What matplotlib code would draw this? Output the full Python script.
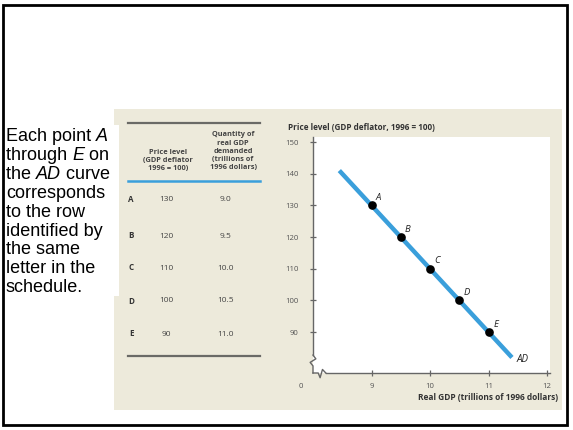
import matplotlib
matplotlib.use("Agg")
import matplotlib.pyplot as plt
from matplotlib.patches import Rectangle
from matplotlib.lines import Line2D

# Aggregate demand schedule
letters = ["A", "B", "C", "D", "E"]
price_level = [130, 120, 110, 100, 90]
real_gdp = [9.0, 9.5, 10.0, 10.5, 11.0]
price_labels = ["130", "120", "110", "100", "90"]
gdp_labels = ["9.0", "9.5", "10.0", "10.5", "11.0"]

# AD curve end points
ad_gdp = [8.45, 11.4]
ad_price = [141.0, 82.0]

y_ticks = [90, 100, 110, 120, 130, 140, 150]
x_ticks = [9, 10, 11, 12]

W, H = 573, 430
fig = plt.figure(figsize=(W / 100, H / 100), dpi=100)
fig.patch.set_facecolor("white")


def fx(px):
    return px / W


def fy(py):
    return 1 - py / H


BEIGE = "#edeadb"
BLUE = "#3a9fdb"
GREY = "#555555"
FONT = ["Open Sans", "DejaVu Sans"]

# Beige figure panel
fig.add_artist(Rectangle((fx(114), fy(410)), fx(562) - fx(114), fy(109) - fy(410),
                         transform=fig.transFigure, facecolor=BEIGE, edgecolor="none", zorder=0))
# White backing behind caption
fig.add_artist(Rectangle((fx(4), fy(296)), fx(119) - fx(4), fy(125) - fy(296),
                         transform=fig.transFigure, facecolor="white", edgecolor="none", zorder=1))
# Slide border
fig.add_artist(Rectangle((fx(3), fy(425)), fx(567) - fx(3), fy(5) - fy(425),
                         transform=fig.transFigure, facecolor="none", edgecolor="black",
                         linewidth=2.0, zorder=10))

# Caption
caption = [
    [("Each point ", "normal"), ("A", "italic")],
    [("through ", "normal"), ("E", "italic"), (" on", "normal")],
    [("the ", "normal"), ("AD", "italic"), (" curve", "normal")],
    [("corresponds", "normal")],
    [("to the row", "normal")],
    [("identified by", "normal")],
    [("the same", "normal")],
    [("letter in the", "normal")],
    [("schedule.", "normal")],
]
renderer = fig.canvas.get_renderer()
for i, parts in enumerate(caption):
    xpos = 6
    ypos = 136.5 + i * 18.9
    for txt, style in parts:
        t = fig.text(fx(xpos), fy(ypos), txt, fontsize=13.0, style=style,
                     family=["Liberation Sans", "DejaVu Sans"], va="center", ha="left",
                     color="black", zorder=5)
        bb = t.get_window_extent(renderer=renderer)
        xpos += bb.width

# Schedule table
fig.add_artist(Line2D([fx(128), fx(260)], [fy(123), fy(123)], transform=fig.transFigure,
                      color="#6a6a66", linewidth=1.6, zorder=3))
fig.add_artist(Line2D([fx(128), fx(260)], [fy(181), fy(181)], transform=fig.transFigure,
                      color=BLUE, linewidth=1.8, zorder=3))
fig.add_artist(Line2D([fx(128), fx(260)], [fy(356), fy(356)], transform=fig.transFigure,
                      color="#6a6a66", linewidth=1.6, zorder=3))

fig.text(fx(168), fy(160.5), "Price level\n(GDP deflator\n1996 = 100)", fontsize=5.3,
         fontweight="bold", family=FONT, color="#444444", ha="center", va="center",
         linespacing=1.25, zorder=4)
fig.text(fx(233), fy(151.5), "Quantity of\nreal GDP\ndemanded\n(trillions of\n1996 dollars)",
         fontsize=5.3, fontweight="bold", family=FONT, color="#444444", ha="center",
         va="center", linespacing=1.25, zorder=4)

row_y = [200, 236, 268, 301, 334]
for letter, pl, gl, ry in zip(letters, price_labels, gdp_labels, row_y):
    fig.text(fx(131), fy(ry), letter, fontsize=5.8, fontweight="bold", family=FONT,
             color="#333333", ha="center", va="center", zorder=4)
    fig.text(fx(166), fy(ry), pl, fontsize=6.0, family=FONT, color="#444444",
             ha="center", va="center", zorder=4)
    fig.text(fx(226), fy(ry), gl, fontsize=6.0, family=FONT, color="#444444",
             ha="center", va="center", zorder=4)

# Graph
ax_left, ax_right, ax_top, ax_bot = 313, 550, 137, 373
ax = fig.add_axes([fx(ax_left), fy(ax_bot), fx(ax_right) - fx(ax_left), fy(ax_top) - fy(ax_bot)])
ax.set_zorder(3)
ax.set_facecolor("white")
ax.set_xlim(8, 12.05)
ax.set_ylim(77.1, 151.6)

ax.plot(ad_gdp, ad_price, color=BLUE, linewidth=3.2, solid_capstyle="butt", zorder=2)
ax.plot(real_gdp, price_level, "o", color="black", markersize=5.2, zorder=3)
for letter, gx, py in zip(letters, real_gdp, price_level):
    ax.annotate(letter, (gx, py), xytext=(7, 8), textcoords="offset pixels",
                fontsize=6.8, style="italic", family=FONT, color="#222222",
                ha="center", va="center")
ax.annotate("AD", (ad_gdp[-1], ad_price[-1]), xytext=(11, -2), textcoords="offset pixels",
            fontsize=7.0, style="italic", family=FONT, color="#222222",
            ha="center", va="center")

for side in ("top", "right"):
    ax.spines[side].set_visible(False)
ax.spines["left"].set_bounds(82.8, 151.6)
ax.spines["bottom"].set_bounds(8.22, 12.05)
for side in ("left", "bottom"):
    ax.spines[side].set_color("#666666")
    ax.spines[side].set_linewidth(1.0)

# Axis breaks near the origin
brk = dict(color="#666666", linewidth=1.0, transform=ax.transAxes, clip_on=False)
ax.add_line(Line2D([0, 0.012, -0.012, 0.0, 0.0], [0.076, 0.060, 0.045, 0.030, 0.0], **brk))
ax.add_line(Line2D([0, 0.022, 0.030, 0.040, 0.054], [0, 0, -0.02, 0.015, 0], **brk))

ax.set_yticks(y_ticks)
ax.set_yticklabels([str(v) for v in y_ticks])
ax.set_xticks(x_ticks)
ax.set_xticklabels([str(v) for v in x_ticks])
ax.tick_params(axis="both", direction="inout", length=5, width=0.9, color="#666666",
               labelsize=5.6, labelcolor=GREY)
ax.tick_params(axis="y", pad=8)
ax.tick_params(axis="x", pad=5)
for lab in ax.get_xticklabels() + ax.get_yticklabels():
    lab.set_family(FONT)

fig.text(fx(301), fy(386), "0", fontsize=5.6, family=FONT, color=GREY,
         ha="center", va="center", zorder=4)

fig.text(fx(288), fy(128), "Price level (GDP deflator, 1996 = 100)", fontsize=5.9,
         fontweight="bold", family=FONT, color="#333333", ha="left", va="center", zorder=4)
fig.text(fx(558), fy(398), "Real GDP (trillions of 1996 dollars)", fontsize=6.0,
         fontweight="bold", family=FONT, color="#333333", ha="right", va="center", zorder=4)

fig.savefig("out.png", dpi=100, facecolor="white")
